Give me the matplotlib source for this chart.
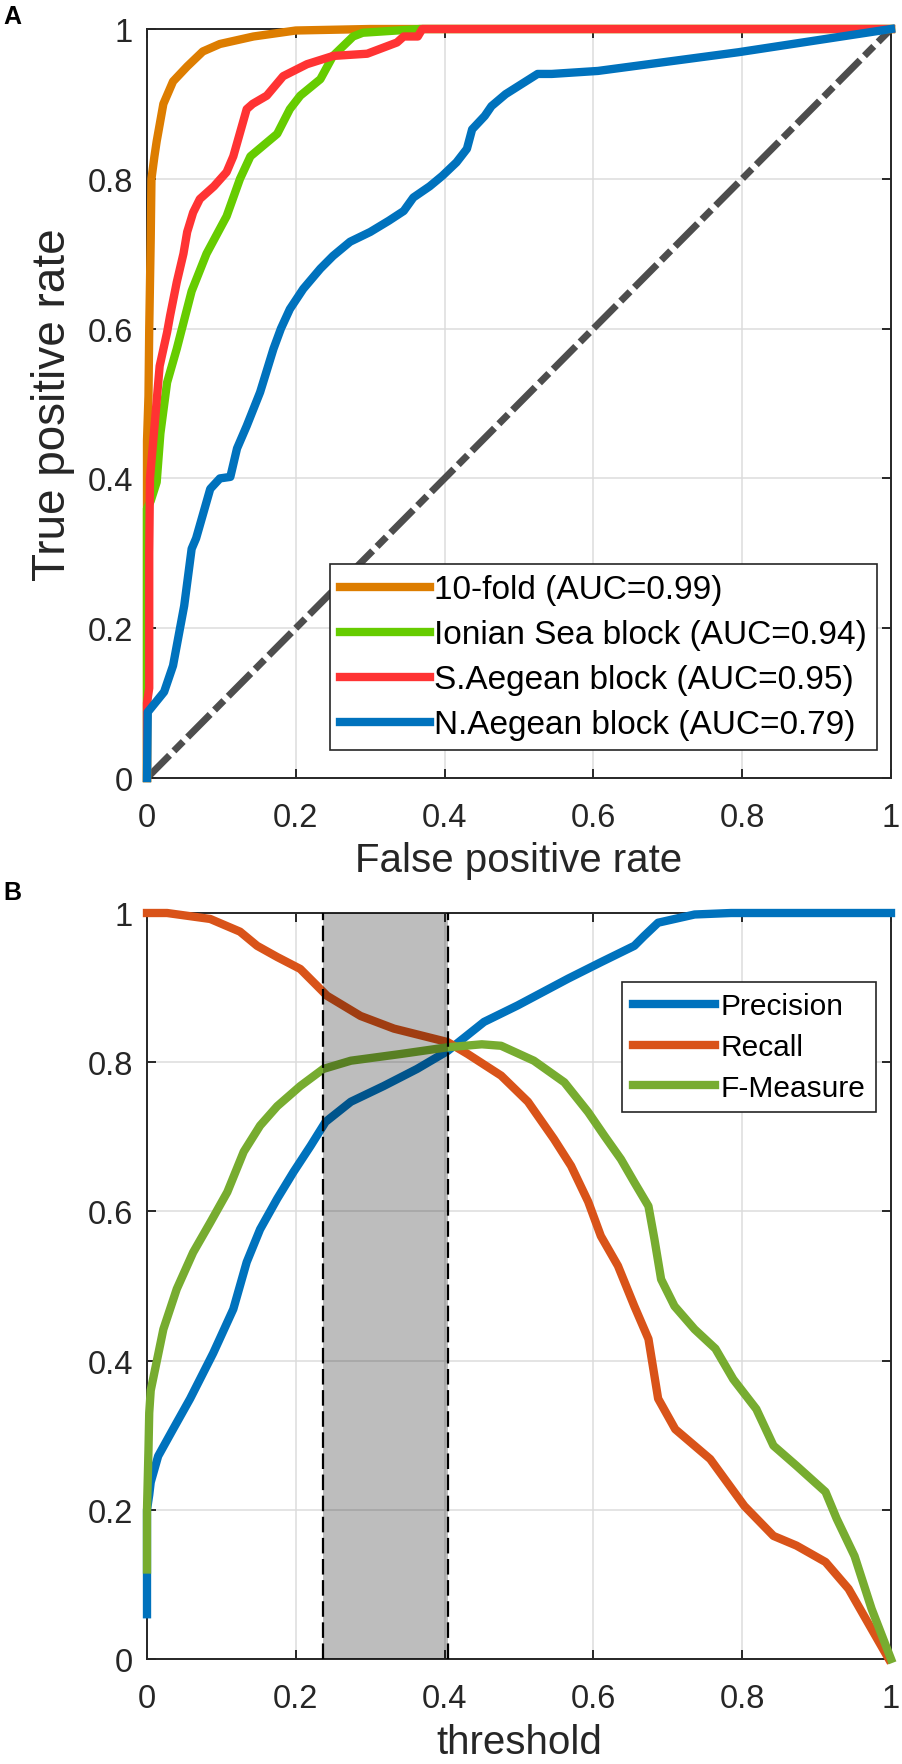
import matplotlib
matplotlib.use("Agg")
import matplotlib.pyplot as plt

plt.rcParams['font.family'] = ['Liberation Sans', 'DejaVu Sans']

# panel A: ROC curves
orange_fpr = [0, 0, 0.002, 0.003, 0.005, 0.006, 0.010, 0.013, 0.022, 0.035, 0.054, 0.075, 0.098, 0.143, 0.2, 0.3, 1.0]
orange_tpr = [0, 0.45, 0.51, 0.60, 0.72, 0.80, 0.83, 0.85, 0.90, 0.93, 0.95, 0.97, 0.98, 0.99, 0.998, 1.0, 1.0]

green_fpr = [0, 0, 0.005, 0.013, 0.018, 0.027, 0.04, 0.047, 0.06, 0.08, 0.107, 0.125, 0.139, 0.175, 0.192, 0.206,
             0.233, 0.25, 0.277, 0.29, 0.367, 1.0]
green_tpr = [0, 0.36, 0.37, 0.395, 0.46, 0.528, 0.573, 0.60, 0.65, 0.70, 0.75, 0.80, 0.83, 0.86, 0.893, 0.911,
             0.933, 0.964, 0.99, 0.995, 1.0, 1.0]

red_fpr = [0, 0, 0.003, 0.003, 0.004, 0.011, 0.017, 0.027, 0.031, 0.040, 0.049, 0.054, 0.062, 0.071, 0.09, 0.107,
           0.116, 0.134, 0.142, 0.161, 0.183, 0.215, 0.25, 0.296, 0.336, 0.345, 0.364, 0.37, 1.0]
red_tpr = [0, 0.10, 0.12, 0.30, 0.40, 0.48, 0.55, 0.595, 0.617, 0.662, 0.70, 0.729, 0.755, 0.773, 0.79, 0.809,
           0.83, 0.893, 0.90, 0.911, 0.937, 0.953, 0.964, 0.967, 0.982, 0.99, 0.99, 1.0, 1.0]

blue_fpr = [0, 0.001, 0.023, 0.035, 0.05, 0.06, 0.066, 0.085, 0.098, 0.112, 0.121, 0.134, 0.152, 0.17, 0.18, 0.192,
            0.21, 0.233, 0.25, 0.273, 0.30, 0.325, 0.345, 0.358, 0.38, 0.397, 0.416, 0.43, 0.437, 0.454, 0.463,
            0.482, 0.525, 0.544, 0.606, 0.795, 1.0]
blue_tpr = [0, 0.088, 0.115, 0.15, 0.23, 0.306, 0.32, 0.386, 0.40, 0.402, 0.44, 0.47, 0.515, 0.573, 0.60, 0.626,
            0.653, 0.68, 0.697, 0.716, 0.729, 0.744, 0.757, 0.775, 0.79, 0.804, 0.822, 0.84, 0.866, 0.884, 0.897,
            0.913, 0.94, 0.94, 0.944, 0.969, 1.0]

roc_labels = ['10-fold (AUC=0.99)', 'Ionian Sea block (AUC=0.94)',
              'S.Aegean block (AUC=0.95)', 'N.Aegean block (AUC=0.79)']

# panel B: precision / recall / F-measure vs threshold
thr_p = [0, 0, 0.003, 0.005, 0.015, 0.035, 0.058, 0.089, 0.116, 0.134, 0.152, 0.175, 0.197, 0.22, 0.24, 0.274,
         0.318, 0.363, 0.404, 0.453, 0.498, 0.566, 0.61, 0.655, 0.668, 0.687, 0.736, 0.785, 1.0]
precision = [0.06, 0.2, 0.22, 0.237, 0.272, 0.308, 0.349, 0.41, 0.469, 0.532, 0.576, 0.617, 0.653, 0.688, 0.72,
             0.747, 0.768, 0.791, 0.815, 0.854, 0.876, 0.912, 0.934, 0.956, 0.969, 0.987, 0.998, 1.0, 1.0]

thr_r = [0, 0.027, 0.085, 0.125, 0.148, 0.175, 0.206, 0.224, 0.242, 0.287, 0.332, 0.368, 0.404, 0.431, 0.476,
         0.512, 0.547, 0.57, 0.593, 0.61, 0.633, 0.655, 0.674, 0.687, 0.71, 0.757, 0.803, 0.842, 0.873, 0.912,
         0.943, 0.974, 0.997]
recall = [1.0, 1.0, 0.992, 0.975, 0.956, 0.941, 0.925, 0.907, 0.889, 0.862, 0.845, 0.836, 0.827, 0.811, 0.782,
          0.747, 0.697, 0.661, 0.613, 0.567, 0.527, 0.473, 0.429, 0.349, 0.308, 0.268, 0.205, 0.165, 0.152, 0.13,
          0.094, 0.04, 0.0]

thr_f = [0, 0, 0.002, 0.003, 0.005, 0.022, 0.04, 0.062, 0.085, 0.108, 0.13, 0.152, 0.175, 0.206, 0.237, 0.274,
         0.341, 0.404, 0.45, 0.476, 0.52, 0.561, 0.593, 0.615, 0.637, 0.655, 0.674, 0.682, 0.691, 0.709, 0.736,
         0.764, 0.788, 0.819, 0.842, 0.873, 0.912, 0.927, 0.951, 0.974, 1.0]
fmeasure = [0.12, 0.2, 0.281, 0.33, 0.36, 0.442, 0.496, 0.545, 0.585, 0.626, 0.68, 0.715, 0.741, 0.768, 0.791,
            0.802, 0.811, 0.82, 0.824, 0.822, 0.802, 0.773, 0.733, 0.701, 0.67, 0.639, 0.607, 0.563, 0.509, 0.473,
            0.442, 0.416, 0.375, 0.335, 0.286, 0.259, 0.224, 0.188, 0.138, 0.067, 0.0]

band = [0.237, 0.405]

ticks = [0, 0.2, 0.4, 0.6, 0.8, 1]
ticklabels = ['0', '0.2', '0.4', '0.6', '0.8', '1']
axcol = '#262626'


def style(ax):
    ax.set_xlim(0, 1)
    ax.set_ylim(0, 1)
    ax.set_xticks(ticks)
    ax.set_yticks(ticks)
    ax.set_xticklabels(ticklabels)
    ax.set_yticklabels(ticklabels)
    ax.grid(True, color='#dcdcdc', lw=1.1)
    ax.set_axisbelow(True)
    for s in ax.spines.values():
        s.set_color(axcol)
        s.set_linewidth(1.4)
    ax.tick_params(direction='in', top=True, right=True, length=6.5, width=1.4, color=axcol,
                   labelcolor=axcol, labelsize=23.5)
    ax.tick_params(axis='x', pad=17)
    ax.tick_params(axis='y', pad=10)


fig = plt.figure(figsize=(9.03, 17.65), dpi=100)
W, H = 903.0, 1765.0

ax1 = fig.add_axes([147 / W, 1 - 779 / H, 744 / W, 749 / H])
style(ax1)
ax1.plot([0, 1], [0, 1], color='#4d4d4d', lw=5, linestyle=(0, (4.6, 0.9, 1.9, 0.9)),
         dash_capstyle='butt', zorder=2)
ax1.plot(orange_fpr, orange_tpr, color='#DD7D00', lw=6, label=roc_labels[0], clip_on=False, zorder=3)
ax1.plot(green_fpr, green_tpr, color='#66CC00', lw=6, label=roc_labels[1], clip_on=False, zorder=3)
ax1.plot(red_fpr, red_tpr, color='#FF3333', lw=6, label=roc_labels[2], clip_on=False, zorder=3)
ax1.plot(blue_fpr, blue_tpr, color='#0072BD', lw=6, label=roc_labels[3], clip_on=False, zorder=3)
ax1.set_xlabel('False positive rate', fontsize=29, color=axcol)
ax1.set_ylabel('True positive rate', fontsize=33, color=axcol)
ax1.xaxis.set_label_coords(0.5, -0.084)
ax1.yaxis.set_label_coords(-0.097, 0.5)
leg1 = ax1.legend(loc='lower right', bbox_to_anchor=(0.981, 0.037), borderaxespad=0, fontsize=24,
                  handlelength=2.7, handletextpad=0.12, labelspacing=0.42, borderpad=0.3,
                  fancybox=False, framealpha=1, edgecolor=axcol)
leg1.get_frame().set_linewidth(1.2)
leg1.set_zorder(10)

ax2 = fig.add_axes([147 / W, 1 - 1660 / H, 744 / W, 746 / H])
style(ax2)
ax2.plot(thr_p, precision, color='#0072BD', lw=6, label='Precision', clip_on=False, zorder=3)
ax2.plot(thr_r, recall, color='#D95319', lw=6, label='Recall', clip_on=False, zorder=3)
ax2.plot(thr_f, fmeasure, color='#77AC30', lw=6, label='F-Measure', clip_on=False, zorder=3)
ax2.axvspan(band[0], band[1], color='k', alpha=0.26, lw=0, zorder=4)
for b in band:
    ax2.axvline(b, color='k', lw=1.6, linestyle=(0, (7, 2.5)), zorder=5)
ax2.set_xlabel('threshold', fontsize=29, color=axcol)
ax2.xaxis.set_label_coords(0.5, -0.086)
leg2 = ax2.legend(loc='upper right', bbox_to_anchor=(0.98, 0.9075), borderaxespad=0, fontsize=21.5,
                  handlelength=2.75, handletextpad=0.2, labelspacing=0.42, borderpad=0.35,
                  fancybox=False, framealpha=1, edgecolor=axcol)
leg2.get_frame().set_linewidth(1.2)
leg2.set_zorder(10)

fig.text(3 / W, 1 - 5 / H, 'A', fontsize=18, fontweight='bold', va='top', ha='left')
fig.text(3 / W, 1 - 881 / H, 'B', fontsize=18, fontweight='bold', va='top', ha='left')

fig.savefig('out.png', dpi=100)
